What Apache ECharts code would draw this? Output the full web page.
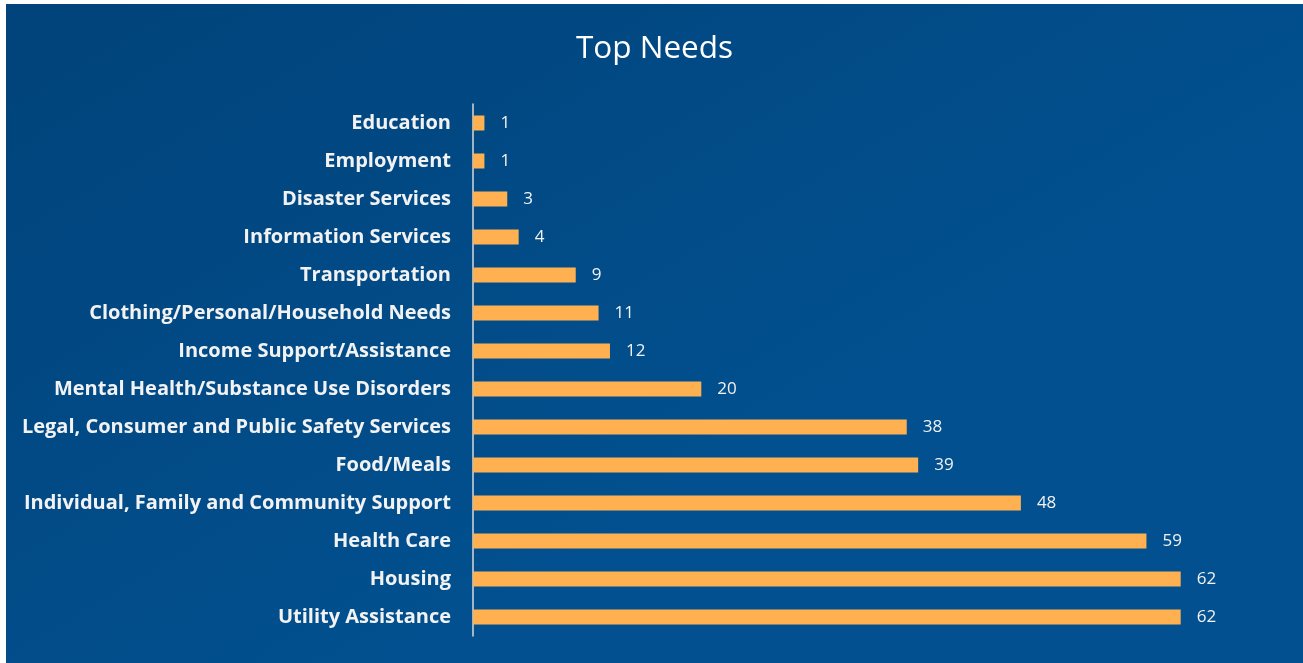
<!DOCTYPE html>
<html>
<head>
<meta charset="utf-8">
<script src="https://cdn.jsdelivr.net/npm/echarts@6/dist/echarts.min.js"></script>
<style>
  html, body { margin: 0; padding: 0; background: #ffffff; }
  #chart { position: absolute; left: 6px; top: 4px; width: 1297px; height: 659px; }
</style>
</head>
<body>
<div id="chart"></div>
<script>
// Top needs by category, listed top to bottom
const categories = [
  'Education',
  'Employment',
  'Disaster Services',
  'Information Services',
  'Transportation',
  'Clothing/Personal/Household Needs',
  'Income Support/Assistance',
  'Mental Health/Substance Use Disorders',
  'Legal, Consumer and Public Safety Services',
  'Food/Meals',
  'Individual, Family and Community Support',
  'Health Care',
  'Housing',
  'Utility Assistance'
];
const counts = [1, 1, 3, 4, 9, 11, 12, 20, 38, 39, 48, 59, 62, 62];

const chart = echarts.init(document.getElementById('chart'), null, { renderer: 'canvas' });

chart.setOption({
  backgroundColor: new echarts.graphic.LinearGradient(0, 0, 0.3, 1, [
    { offset: 0, color: '#01437a' },
    { offset: 1, color: '#02508f' }
  ]),
  title: {
    text: 'Top Needs',
    left: 'center',
    top: 24,
    textStyle: {
      color: '#ffffff',
      fontFamily: 'Open Sans',
      fontWeight: 'normal',
      fontSize: 31.5
    }
  },
  grid: {
    left: 467,
    top: 100,
    width: 799,
    height: 532,
    containLabel: false
  },
  xAxis: {
    type: 'value',
    min: 0,
    max: 70,
    show: false
  },
  yAxis: {
    type: 'category',
    data: categories,
    inverse: true,
    axisLine: { show: true, lineStyle: { color: '#d9d9d9', width: 1.5 } },
    axisTick: { show: false },
    axisLabel: {
      color: '#f2f2f2',
      fontFamily: 'Open Sans',
      fontWeight: 'bold',
      fontSize: 20,
      margin: 22
    }
  },
  series: [{
    type: 'bar',
    data: counts,
    barWidth: 15,
    itemStyle: { color: '#ffb152' },
    label: {
      show: true,
      position: 'right',
      distance: 16,
      color: '#f2f2f2',
      fontFamily: 'Open Sans',
      fontSize: 17
    },
    silent: true
  }],
  animation: false
});
</script>
</body>
</html>
